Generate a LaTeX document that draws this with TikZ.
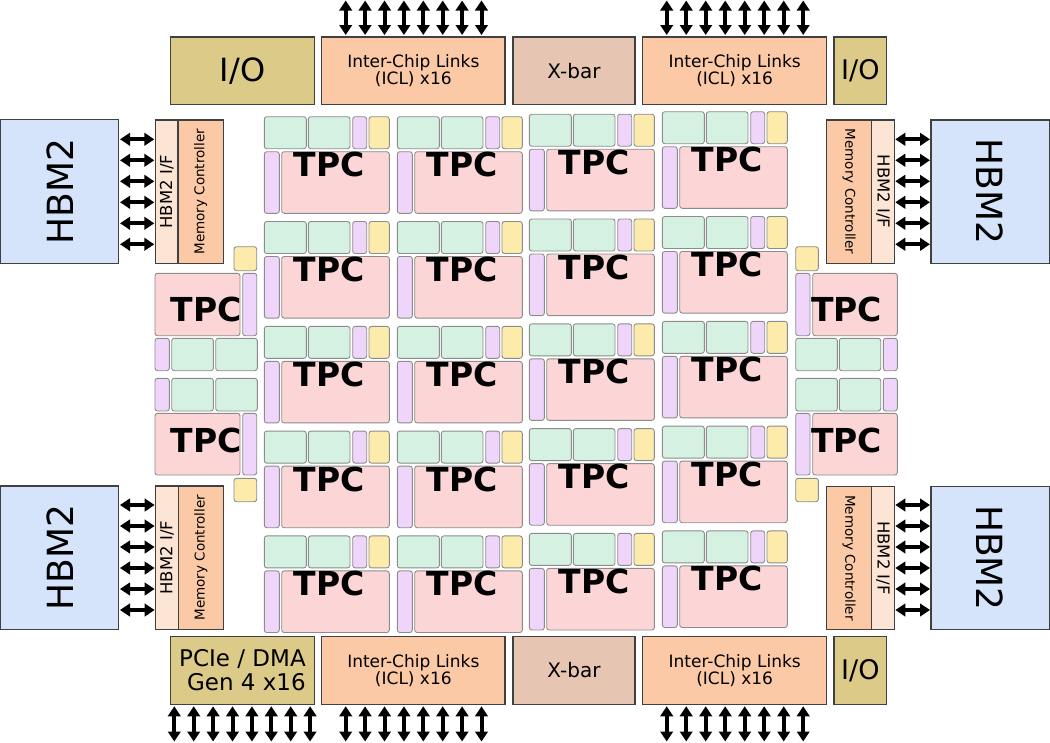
\documentclass[tikz,border=0pt]{standalone}
\usepackage{fontspec}
\setmainfont{DejaVu Sans}
\usetikzlibrary{arrows.meta, calc}

\definecolor{hbmblue}{HTML}{D5E4FB}
\definecolor{ifpeach}{HTML}{FDE5D5}
\definecolor{mcpeach}{HTML}{FCC9A6}
\definecolor{xbartan}{HTML}{E6C5B2}
\definecolor{iokhaki}{HTML}{DCCB88}
\definecolor{tpcpink}{HTML}{FCD6D6}
\definecolor{sramgreen}{HTML}{D5F1E2}
\definecolor{lanepurple}{HTML}{F0D5FB}
\definecolor{cacheyellow}{HTML}{FCEBAA}

% box from (x1,y1) to (x2,y2) in pixel units
\newcommand{\blk}[7][]{%
  \node[#1, minimum width={(#5)-(#3)}, minimum height={(#6)-(#4)}] (#2) at ({((#3)+(#5))/2},{((#4)+(#6))/2}) {#7};}

\begin{document}
\begin{tikzpicture}[x=1pt,y=-1pt]
\tikzset{bigbox/.style={draw=black!75, line width=1.2pt, inner sep=0pt, outer sep=0pt, align=center}}
\tikzset{cell/.style={draw=black!45, line width=0.9pt, rounded corners=2.5pt, inner sep=0pt, outer sep=0pt}}
\tikzset{sram/.style={cell, fill=sramgreen}}
\tikzset{lane/.style={cell, fill=lanepurple}}
\tikzset{cache/.style={cell, fill=cacheyellow}}
\tikzset{tpc/.style={cell, fill=tpcpink}}
\tikzset{tpclabel/.style={inner sep=0pt, font=\fontsize{33}{33}\selectfont\bfseries}}
\tikzset{biarrow/.style={{Triangle[length=10pt,width=12.5pt]}-{Triangle[length=10pt,width=12.5pt]}, line width=4pt}}
\useasboundingbox (0,0) rectangle (1050,742);

% top row
\blk[bigbox, fill=iokhaki, font=\fontsize{32}{32}\selectfont]{ioT}{170.7}{37}{314.3}{104.3}{I/O}
\blk[bigbox, fill=mcpeach, font=\fontsize{17}{17}\selectfont]{iclTL}{321.7}{37}{505}{104.3}{Inter-Chip Links\\(ICL) x16}
\blk[bigbox, fill=xbartan, font=\fontsize{20}{20}\selectfont]{xbarT}{513}{37}{635}{104.3}{X-bar}
\blk[bigbox, fill=mcpeach, font=\fontsize{17}{17}\selectfont]{iclTR}{642.7}{37}{826.7}{104.3}{Inter-Chip Links\\(ICL) x16}
\blk[bigbox, fill=iokhaki, font=\fontsize{27}{27}\selectfont]{ioTR}{834}{37}{886.7}{104.3}{I/O}

% bottom row
\blk[bigbox, fill=iokhaki, font=\fontsize{23}{24}\selectfont, align=right]{pcie}{170.7}{636.7}{314.3}{704.3}{PCIe / DMA\\Gen 4 x16}
\blk[bigbox, fill=mcpeach, font=\fontsize{17}{17}\selectfont]{iclBL}{321.7}{636.7}{505}{704.3}{Inter-Chip Links\\(ICL) x16}
\blk[bigbox, fill=xbartan, font=\fontsize{20}{20}\selectfont]{xbarB}{513}{636.7}{635}{704.3}{X-bar}
\blk[bigbox, fill=mcpeach, font=\fontsize{17}{17}\selectfont]{iclBR}{642.7}{636.7}{826.7}{704.3}{Inter-Chip Links\\(ICL) x16}
\blk[bigbox, fill=iokhaki, font=\fontsize{27}{27}\selectfont]{ioBR}{834}{636.7}{886.7}{704.3}{I/O}

% HBM stacks, left
\blk[bigbox, fill=hbmblue]{hbmTL}{0.7}{119.3}{118.7}{263.3}{}
\blk[bigbox, fill=ifpeach]{ifTL}{155.3}{120}{178}{263.3}{}
\blk[bigbox, fill=mcpeach]{mcTL}{178}{120}{223.3}{263.3}{}
\blk[bigbox, fill=hbmblue]{hbmBL}{0.7}{486}{118.7}{629.3}{}
\blk[bigbox, fill=ifpeach]{ifBL}{155.7}{486}{178.3}{629.3}{}
\blk[bigbox, fill=mcpeach]{mcBL}{178.3}{486}{223.3}{629.3}{}
% HBM stacks, right
\blk[bigbox, fill=mcpeach]{mcTR}{826.7}{120}{871.7}{263.3}{}
\blk[bigbox, fill=ifpeach]{ifTR}{871.7}{120}{894.3}{263.3}{}
\blk[bigbox, fill=hbmblue]{hbmTR}{931}{120}{1049.3}{263.3}{}
\blk[bigbox, fill=mcpeach]{mcBR}{826.7}{486.7}{871.7}{629.3}{}
\blk[bigbox, fill=ifpeach]{ifBR}{871.7}{486.7}{894.3}{629.3}{}
\blk[bigbox, fill=hbmblue]{hbmBR}{931}{486.7}{1049.3}{629.3}{}

\foreach \s in {TL,BL}{
  \node[rotate=90, font=\fontsize{36}{36}\selectfont] (hbm\s t) at (hbm\s) {HBM2};
  \node[rotate=90, font=\fontsize{16.5}{16.5}\selectfont] (if\s t) at (if\s) {HBM2 I/F};
  \node[rotate=90, font=\fontsize{13.5}{13.5}\selectfont] (mc\s t) at (mc\s) {Memory Controller};
}
\foreach \s in {TR,BR}{
  \node[rotate=-90, font=\fontsize{36}{36}\selectfont] (hbm\s t) at (hbm\s) {HBM2};
  \node[rotate=-90, font=\fontsize{16.5}{16.5}\selectfont] (if\s t) at (if\s) {HBM2 I/F};
  \node[rotate=-90, font=\fontsize{13.5}{13.5}\selectfont] (mc\s t) at (mc\s) {Memory Controller};
}

% TPC grid
\foreach \c/\x/\dy in {1/264.3/0, 2/397.3/0, 3/529.3/-2.5, 4/662.3/-5}{
  \foreach \r in {1,...,5}{
    \pgfmathsetmacro{\yo}{116.7+(\r-1)*104.8+\dy}
    \blk[sram]{sa\c\r}{\x}{\yo}{\x+42}{\yo+32}{}
    \blk[sram]{sb\c\r}{\x+44}{\yo}{\x+85.7}{\yo+32}{}
    \blk[lane]{la\c\r}{\x+88.4}{\yo}{\x+102.4}{\yo+32}{}
    \blk[cache]{ca\c\r}{\x+104.7}{\yo}{\x+125}{\yo+32}{}
    \blk[lane]{lb\c\r}{\x}{\yo+35}{\x+15}{\yo+96.6}{}
    \blk[tpc]{tpc\c\r}{\x+17.4}{\yo+35}{\x+125}{\yo+96.6}{}
    \node[tpclabel, anchor=base] (tl\c\r) at (\x+65,\yo+60) {TPC};
  }
}

% side TPCs, left
\blk[cache]{caL1}{234}{246.7}{256.7}{270.7}{}
\blk[tpc]{tpcL1}{155}{273.3}{240}{335.7}{}
\blk[lane]{lbL1}{242.7}{273.3}{256.7}{335.7}{}
\blk[lane]{laL1}{155}{338.3}{169.3}{370.7}{}
\blk[sram]{saL1}{171.7}{338.3}{213.3}{370.7}{}
\blk[sram]{sbL1}{215.7}{338.3}{257.3}{370.7}{}
\blk[lane]{laL2}{155}{378.3}{169.3}{411}{}
\blk[sram]{saL2}{171.7}{378.3}{213.3}{411}{}
\blk[sram]{sbL2}{215.7}{378.3}{257.3}{411}{}
\blk[tpc]{tpcL2}{155}{413.3}{240}{475}{}
\blk[lane]{lbL2}{242.7}{413.3}{256.7}{475}{}
\blk[cache]{caL2}{234}{478.3}{256.7}{501.7}{}
\node[tpclabel, anchor=base] (tlL1) at (206,321) {TPC};
\node[tpclabel, anchor=base] (tlL2) at (206,452.7) {TPC};

% side TPCs, right
\blk[cache]{caR1}{795.7}{246.7}{818.3}{270.7}{}
\blk[lane]{lbR1}{795.7}{273.3}{810}{335.7}{}
\blk[tpc]{tpcR1}{812.7}{273.3}{897.3}{335.7}{}
\blk[sram]{saR1}{795.7}{338.3}{837.3}{370.7}{}
\blk[sram]{sbR1}{839.3}{338.3}{880.7}{370.7}{}
\blk[lane]{laR1}{883.3}{338.3}{897.3}{370.7}{}
\blk[sram]{saR2}{795.7}{378.3}{837.3}{411}{}
\blk[sram]{sbR2}{839.3}{378.3}{880.7}{411}{}
\blk[lane]{laR2}{883.3}{378.3}{897.3}{411}{}
\blk[lane]{lbR2}{795.7}{413.3}{810}{475}{}
\blk[tpc]{tpcR2}{812.7}{413.3}{897.3}{475}{}
\blk[cache]{caR2}{795.7}{478.3}{818.3}{501.7}{}
\node[tpclabel, anchor=base] (tlR1) at (846.7,321) {TPC};
\node[tpclabel, anchor=base] (tlR2) at (846.7,452.7) {TPC};

% HBM links
\foreach \i in {0,...,5}{
  \coordinate (hT\i) at (0,{139.3+\i*21});
  \coordinate (hB\i) at (0,{505+\i*21});
  \draw[biarrow, shorten <=1.3pt, shorten >=1pt] (hbmTL.east |- hT\i) -- (ifTL.west |- hT\i);
  \draw[biarrow, shorten <=1.3pt, shorten >=1pt] (hbmBL.east |- hB\i) -- (ifBL.west |- hB\i);
  \draw[biarrow, shorten <=1pt, shorten >=1pt] (ifTR.east |- hT\i) -- (hbmTR.west |- hT\i);
  \draw[biarrow, shorten <=1pt, shorten >=1pt] (ifBR.east |- hB\i) -- (hbmBR.west |- hB\i);
}

% off-chip links
\foreach \i in {0,...,7}{
  \coordinate (tL\i) at ({345.7+\i*19.4},0.5);
  \coordinate (tR\i) at ({666.7+\i*19.5},0.5);
  \coordinate (bP\i) at ({174.3+\i*19.4},741.5);
  \coordinate (bL\i) at ({345.7+\i*19.4},741.5);
  \coordinate (bR\i) at ({666.7+\i*19.5},741.5);
  \draw[biarrow, shorten >=2pt] (tL\i) -- (tL\i |- iclTL.north);
  \draw[biarrow, shorten >=2pt] (tR\i) -- (tR\i |- iclTR.north);
  \draw[biarrow, shorten <=2pt] (bP\i |- pcie.south) -- (bP\i);
  \draw[biarrow, shorten <=2pt] (bL\i |- iclBL.south) -- (bL\i);
  \draw[biarrow, shorten <=2pt] (bR\i |- iclBR.south) -- (bR\i);
}
\end{tikzpicture}
\end{document}
